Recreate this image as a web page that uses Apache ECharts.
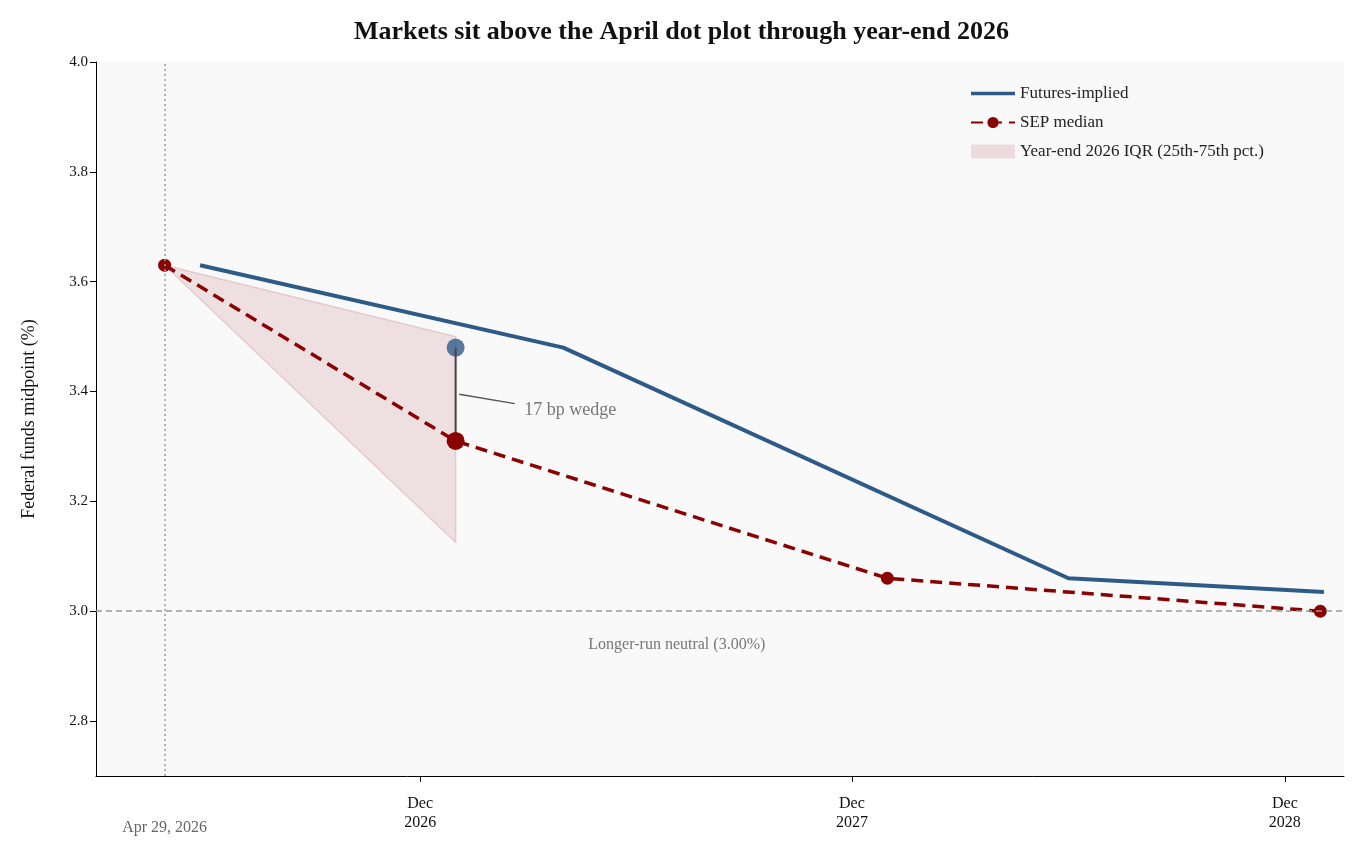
<!DOCTYPE html>
<html><head><meta charset="utf-8">
<script src="https://cdn.jsdelivr.net/npm/echarts@6/dist/echarts.min.js"></script>
<style>html,body{margin:0;background:#fff}#chart{width:1363px;height:856px}</style>
</head><body><div id="chart"></div>
<script>
// data
const futuresDates = ['2026-05-29', '2027-04-01', '2028-06-01', '2029-01-03'];
const futuresValues = [3.63, 3.48, 3.06, 3.035];
const sepDates = ['2026-04-29', '2026-12-31', '2027-12-31', '2028-12-31'];
const sepValues = [3.63, 3.31, 3.06, 3.00];
const futuresYearEnd = ['2026-12-31', 3.48];
const iqrStart = ['2026-04-29', 3.63];
const iqrEnd = ['2026-12-31', 3.125, 3.50];
const tickDates = ['2026-12-01', '2027-12-01', '2028-12-01'];
const neutralRate = 3.0;
const todayDate = '2026-04-29';

const t = d => Date.UTC(+d.slice(0, 4), +d.slice(5, 7) - 1, +d.slice(8, 10));
const font = 'Liberation Serif';
const red = '#8b0000', blue = '#2e5a87';
const months = ['Jan','Feb','Mar','Apr','May','Jun','Jul','Aug','Sep','Oct','Nov','Dec'];
const xMin = t('2026-03-02'), xMax = t('2029-01-20');

var chart = echarts.init(document.getElementById('chart'));
chart.setOption({
    animation: false,
    textStyle: { fontFamily: font },
    title: {
        text: 'Markets sit above the April dot plot through year-end 2026',
        left: 'center', top: 14,
        textStyle: { fontFamily: font, fontSize: 26, fontWeight: 'bold', color: '#111' }
    },
    legend: {
        orient: 'vertical', left: 965, top: 80, itemGap: 12,
        itemWidth: 44, itemHeight: 14,
        textStyle: { fontFamily: font, fontSize: 17, color: '#222' },
        data: [
            { name: 'Futures-implied', icon: 'path://M0,6 L40,6 L40,9 L0,9 Z' },
            { name: 'SEP median' },
            { name: 'Year-end 2026 IQR (25th-75th pct.)', icon: 'rect' }
        ]
    },
    grid: { left: 96, right: 19, top: 62, bottom: 80, show: true, backgroundColor: '#f9f9f9', borderWidth: 0 },
    xAxis: [{
        type: 'value', min: xMin, max: xMax,
        axisLine: { lineStyle: { color: '#000' } },
        splitLine: { show: false },
        axisTick: { customValues: tickDates.map(t), lineStyle: { color: '#000' }, length: 6 },
        axisLabel: {
            customValues: tickDates.map(t), fontSize: 16, color: '#111', lineHeight: 19, margin: 18,
            formatter: v => { const d = new Date(v); return months[d.getUTCMonth()] + '\n' + d.getUTCFullYear(); }
        }
    }, {
        type: 'value', position: 'bottom', offset: 36, min: xMin, max: xMax,
        axisLine: { show: false }, axisTick: { show: false }, splitLine: { show: false },
        axisLabel: {
            customValues: [t(todayDate)], fontSize: 16, color: '#666',
            formatter: v => { const d = new Date(v); return months[d.getUTCMonth()] + ' ' + d.getUTCDate() + ', ' + d.getUTCFullYear(); }
        }
    }],
    yAxis: {
        type: 'value', min: 2.7, max: 4.0,
        name: 'Federal funds midpoint (%)', nameLocation: 'middle', nameGap: 58,
        nameTextStyle: { fontSize: 18, color: '#111' },
        axisLine: { show: true, lineStyle: { color: '#000' } },
        axisTick: { show: true, length: 6, lineStyle: { color: '#000' }, customValues: [2.8, 3.0, 3.2, 3.4, 3.6, 3.8, 4.0] },
        splitLine: { show: false },
        axisLabel: {
            fontSize: 15, color: '#111',
            customValues: [2.8, 3.0, 3.2, 3.4, 3.6, 3.8, 4.0],
            formatter: v => v.toFixed(1)
        }
    },
    series: [
        {
            name: 'Year-end 2026 IQR (25th-75th pct.)', type: 'custom',
            itemStyle: { color: 'rgba(180,90,100,0.18)', borderColor: 'rgba(180,90,100,0.25)' },
            data: [[t(iqrStart[0]), iqrStart[1], t(iqrEnd[0]), iqrEnd[1], iqrEnd[2]]],
            renderItem: (params, api) => {
                const a = api.coord([api.value(0), api.value(1)]);
                const b = api.coord([api.value(2), api.value(3)]);
                const c = api.coord([api.value(2), api.value(4)]);
                return { type: 'polygon', shape: { points: [a, b, c] },
                    style: { fill: 'rgba(180,90,100,0.16)', stroke: 'rgba(180,90,100,0.22)', lineWidth: 1.5 } };
            }
        },
        {
            name: 'neutral', type: 'line', data: [], silent: true,
            markLine: {
                symbol: 'none', silent: true,
                lineStyle: { color: '#999', type: [6, 4], width: 1.5 },
                label: { show: false },
                data: [{ yAxis: neutralRate }, { xAxis: t(todayDate), lineStyle: { type: [2, 3], color: '#999', width: 1.5 } }]
            }
        },
        {
            name: 'Futures-implied', type: 'line', symbol: 'none', color: blue,
            lineStyle: { width: 4, color: blue },
            data: futuresDates.map((d, i) => [t(d), futuresValues[i]])
        },
        {
            name: 'wedge', type: 'line', symbol: 'none', silent: true,
            lineStyle: { width: 2, color: '#444' },
            data: [[t(futuresYearEnd[0]), futuresYearEnd[1]], [t(sepDates[1]), sepValues[1]]]
        },
        {
            name: 'wedgeNote', type: 'line', symbol: 'none', silent: true,
            lineStyle: { width: 1.5, color: '#555' },
            data: [[t('2027-01-03'), 3.395], [t('2027-02-19'), 3.378]]
        },
        {
            name: 'SEP median', type: 'line', color: red, symbol: 'circle',
            symbolSize: (v, p) => p.dataIndex === 1 ? 18 : 13,
            itemStyle: { color: red },
            lineStyle: { width: 3.5, type: [12, 7], color: red },
            data: sepDates.map((d, i) => [t(d), sepValues[i]])
        },
        {
            name: 'futYE', type: 'scatter', symbolSize: 18, itemStyle: { color: blue },
            data: [[t(futuresYearEnd[0]), futuresYearEnd[1]]]
        },
        {
            name: 'labels', type: 'scatter', symbolSize: 0, silent: true,
            data: [
                { value: [t('2027-02-27'), 3.365], label: { show: true, position: 'right', distance: 0, formatter: '17 bp wedge', fontSize: 18, color: '#555' } },
                { value: [t('2027-07-06'), 2.938], label: { show: true, position: 'inside', formatter: 'Longer-run neutral (3.00%)', fontSize: 16, color: '#555' } }
            ]
        }
    ]
});
</script></body></html>
